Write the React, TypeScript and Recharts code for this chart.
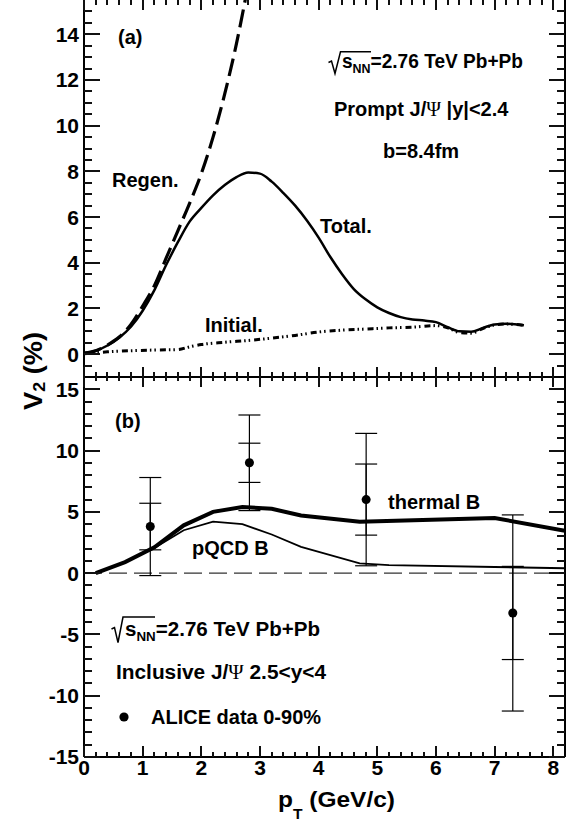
import React from "react";
import {
  ComposedChart,
  Line,
  Scatter,
  ErrorBar,
  XAxis,
  YAxis,
  ReferenceLine,
} from "recharts";

// (a) prompt J/psi v2, b = 8.4 fm
const regenPt = [0, 0.2, 0.4, 0.6, 0.8, 1.0, 1.2, 1.4, 1.6, 1.8, 2.0, 2.2, 2.4, 2.6, 2.8, 3.0];
const regenV2 = [0.05, 0.15, 0.4, 0.75, 1.3, 2.1, 3.0, 4.2, 5.4, 6.6, 7.9, 9.5, 11.4, 13.6, 16.2, 19.0];

const totalPt = [0, 0.2, 0.4, 0.6, 0.8, 1.0, 1.2, 1.4, 1.6, 1.8, 2.0, 2.2, 2.4, 2.6, 2.8, 3.0, 3.2, 3.4, 3.6, 3.8, 4.0, 4.2, 4.4, 4.6, 4.8, 5.0, 5.2, 5.4, 5.6, 5.8, 6.0, 6.2, 6.4, 6.6, 6.8, 7.0, 7.2, 7.5];
const totalV2 = [0.05, 0.15, 0.38, 0.72, 1.2, 1.9, 2.8, 3.9, 4.9, 5.8, 6.4, 6.95, 7.4, 7.75, 7.95, 7.9, 7.55, 7.05, 6.5, 5.85, 5.1, 4.25, 3.5, 2.85, 2.4, 2.05, 1.8, 1.62, 1.52, 1.47, 1.4, 1.18, 1.0, 0.98, 1.15, 1.3, 1.33, 1.26];

const initialPt = [0, 0.4, 0.8, 1.2, 1.6, 1.8, 2.0, 2.4, 2.8, 3.2, 3.6, 4.0, 4.4, 4.8, 5.2, 5.6, 6.0, 6.2, 6.4, 6.6, 6.8, 7.0, 7.2, 7.5];
const initialV2 = [0.02, 0.1, 0.15, 0.18, 0.2, 0.32, 0.42, 0.52, 0.6, 0.7, 0.82, 0.97, 1.05, 1.1, 1.15, 1.18, 1.25, 1.15, 0.95, 0.92, 1.12, 1.28, 1.32, 1.26];

// (b) inclusive J/psi v2, forward rapidity
const thermalPt = [0.2, 0.7, 1.2, 1.7, 2.2, 2.7, 3.2, 3.7, 4.7, 7.0, 8.2];
const thermalV2 = [0, 0.9, 2.1, 3.9, 5.0, 5.4, 5.25, 4.7, 4.2, 4.5, 3.45];

const pqcdPt = [0.2, 0.7, 1.2, 1.7, 2.2, 2.7, 3.2, 3.7, 4.7, 5.2, 7.0, 8.2];
const pqcdV2 = [0, 0.9, 2.05, 3.5, 4.2, 4.0, 3.15, 2.15, 0.8, 0.65, 0.5, 0.4];

const alicePt = [1.13, 2.82, 4.81, 7.31];
const aliceV2 = [3.8, 9.0, 6.0, -3.25];
const aliceStat = [1.9, 1.6, 2.9, 3.8];
const aliceTotal = [4.0, 3.9, 5.4, 8.0];

// tick labels (major ticks)
const xLabels = [0, 1, 2, 3, 4, 5, 6, 7, 8];
const topYLabels = [0, 2, 4, 6, 8, 10, 12, 14];
const botYLabels = [-15, -10, -5, 0, 5, 10, 15];

const FONT = "'Liberation Sans', Arial, Helvetica, sans-serif";

const pairs = (xs: number[], ys: number[]) => xs.map((x, i) => ({ x, v: ys[i] }));

const steps = (lo: number, hi: number, d: number) =>
  Array.from({ length: Math.round((hi - lo) / d) + 1 }, (_, i) => +(lo + i * d).toFixed(3));

const xDomain: [number, number] = [0, 8.2];
const topDomain: [number, number] = [-1, 15.5];
const botDomain: [number, number] = [-15, 16];

const xMinor = steps(0.2, 8.0, 0.2);
const topMinor = steps(-0.5, 15, 0.5);
const botMinor = steps(-14, 15, 1);

const W = 571;
const LEFT_W = 84;
const PLOT_X0 = LEFT_W;
const PLOT_X1 = W - 1 - 5;
const TOP_Y0 = 0;
const MID_Y = 377;
const BOT_Y1 = 757;

const frame = { stroke: "#000", strokeWidth: 2 };
const labelStyle = { fill: "#000", fontSize: 21, fontWeight: "bold", fontFamily: FONT };

function TopPanel() {
  return (
    <ComposedChart width={W} height={MID_Y + 1} margin={{ top: 0, right: 5, bottom: 0, left: 0 }}>
      <XAxis dataKey="x" type="number" domain={xDomain} allowDataOverflow ticks={xLabels} interval={0}
        height={1} tick={false} tickLine={false} axisLine={frame} />
      <YAxis type="number" domain={topDomain} allowDataOverflow ticks={topYLabels} interval={0} width={LEFT_W}
        tickSize={0} tickMargin={5} tickLine={false} axisLine={frame} tick={labelStyle} />
      <YAxis yAxisId="r" orientation="right" type="number" domain={topDomain} allowDataOverflow ticks={topYLabels}
        interval={0} width={1} tick={false} tickLine={false} axisLine={frame} />
      <Line data={pairs(regenPt, regenV2)} dataKey="v" type="monotone" stroke="#000" strokeWidth={3.2}
        strokeDasharray="18 7" dot={false} activeDot={false} isAnimationActive={false} />
      <Line data={pairs(totalPt, totalV2)} dataKey="v" type="monotone" stroke="#000" strokeWidth={2.5}
        dot={false} activeDot={false} isAnimationActive={false} />
      <Line data={pairs(initialPt, initialV2)} dataKey="v" type="monotone" stroke="#000" strokeWidth={3}
        strokeDasharray="6 3 1.5 3 1.5 4" dot={false} activeDot={false} isAnimationActive={false} />
    </ComposedChart>
  );
}

function BottomPanel() {
  const alice = alicePt.map((x, i) => ({
    x,
    v: aliceV2[i],
    stat: aliceStat[i],
    tot: aliceTotal[i],
  }));
  return (
    <ComposedChart width={W} height={448} margin={{ top: 0, right: 5, bottom: 0, left: 0 }}>
      <XAxis dataKey="x" type="number" domain={xDomain} allowDataOverflow ticks={xLabels} interval={0}
        height={67} tickSize={0} tickMargin={3} tickLine={false} axisLine={frame} tick={labelStyle} />
      <XAxis xAxisId="t" orientation="top" dataKey="x" type="number" domain={xDomain} allowDataOverflow
        ticks={xLabels} interval={0} height={1} tick={false} tickLine={false} axisLine={frame} />
      <YAxis type="number" domain={botDomain} allowDataOverflow ticks={botYLabels} interval={0} width={LEFT_W}
        tickSize={0} tickMargin={5} tickLine={false} axisLine={frame} tick={labelStyle} />
      <YAxis yAxisId="r" orientation="right" type="number" domain={botDomain} allowDataOverflow ticks={botYLabels}
        interval={0} width={1} tick={false} tickLine={false} axisLine={frame} />
      <ReferenceLine y={0} stroke="#333" strokeWidth={1.3} strokeDasharray="18 7" />
      <Line data={pairs(pqcdPt, pqcdV2)} dataKey="v" type="linear" stroke="#000" strokeWidth={1.8}
        dot={false} activeDot={false} isAnimationActive={false} />
      <Line data={pairs(thermalPt, thermalV2)} dataKey="v" type="linear" stroke="#000" strokeWidth={4}
        dot={false} activeDot={false} isAnimationActive={false} />
      <Scatter data={alice} dataKey="v" fill="#000" isAnimationActive={false}>
        <ErrorBar dataKey="tot" direction="y" width={11} stroke="#000" strokeWidth={1.2} isAnimationActive={false} />
        <ErrorBar dataKey="stat" direction="y" width={11} stroke="#000" strokeWidth={1.2} isAnimationActive={false} />
      </Scatter>
    </ComposedChart>
  );
}

type Box = { x: number; y: number; w: number; h: number };

// inward ROOT-style tick marks on all four sides of both frames, as small filled boxes
function tickBoxes(): Box[] {
  const sx = (v: number) => Math.round(PLOT_X0 + ((v - xDomain[0]) / (xDomain[1] - xDomain[0])) * (PLOT_X1 - PLOT_X0));
  const sy = (v: number, dom: [number, number], y0: number, y1: number) =>
    Math.round(y1 - ((v - dom[0]) / (dom[1] - dom[0])) * (y1 - y0));
  const isIn = (v: number, list: number[]) => list.some((m) => Math.abs(m - v) < 1e-6);
  const out: Box[] = [];
  const side = (dom: [number, number], y0: number, y1: number, minor: number[], major: number[],
    xt: [number, number], xb: [number, number]) => {
    [...minor, ...major].forEach((v) => {
      const y = sy(v, dom, y0, y1);
      const len = isIn(v, major) ? 16 : 8;
      out.push({ x: PLOT_X0, y: y - 1, w: len, h: 2 });
      out.push({ x: PLOT_X1 - len, y: y - 1, w: len, h: 2 });
    });
    [...xMinor, ...xLabels].forEach((v) => {
      const x = sx(v);
      const maj = isIn(v, xLabels);
      const lt = maj ? xt[0] : xt[1];
      const lb = maj ? xb[0] : xb[1];
      out.push({ x: x - 1, y: y0, w: 2, h: lt });
      out.push({ x: x - 1, y: y1 - lb, w: 2, h: lb });
    });
  };
  side(topDomain, TOP_Y0, MID_Y, topMinor, topYLabels, [10, 5], [10, 5]);
  side(botDomain, MID_Y, BOT_Y1, botMinor, botYLabels, [10, 4], [11, 5]);
  return out;
}

const txt = { fontFamily: FONT, fontWeight: "bold" as const, fontSize: 20, fill: "#000" };
const psi = { fontFamily: "'Liberation Serif', 'Times New Roman', serif", fontWeight: "normal" as const };

function TickLayer() {
  const boxes = tickBoxes();
  return (
    <svg width={W} height={824} style={{ position: "absolute", left: 0, top: 0, zIndex: 5, pointerEvents: "none" }}>
      {boxes.map((b, i) => (
        <rect key={i} x={b.x} y={b.y} width={b.w} height={b.h} fill="#111" />
      ))}
    </svg>
  );
}

function Annotations() {
  return (
    <svg width={W} height={824} style={{ position: "absolute", left: 0, top: 0, zIndex: 6, pointerEvents: "none" }}>
      {/* panel (a) */}
      <text x={118} y={44} {...txt}>(a)</text>
      <text x={112} y={187} {...txt}>Regen.</text>
      <text x={320} y={233} {...txt}>Total.</text>
      <text x={205} y={332} {...txt}>Initial.</text>
      <path d="M328.5 62.5 L331.5 61 L335 73.5 L340.5 51.7 L371 51.7" fill="none" stroke="#000" strokeWidth={1.5} />
      <text x={342} y={68} {...txt} textLength={181} lengthAdjust="spacingAndGlyphs">
        s<tspan fontSize={13} dy={5}>NN</tspan>
        <tspan dy={-5}>=2.76 TeV Pb+Pb</tspan>
      </text>
      <text x={334} y={116} {...txt}>
        Prompt J/<tspan {...psi}>Ψ</tspan> |y|&lt;2.4
      </text>
      <text x={383} y={158} {...txt}>b=8.4fm</text>

      {/* panel (b) */}
      <text x={115} y={428} {...txt}>(b)</text>
      <text x={192} y={555} {...txt}>pQCD B</text>
      <text x={388} y={509} {...txt}>thermal B</text>
      <path d="M111.5 629 L114.5 627.5 L118 642.5 L123 617 L155 617" fill="none" stroke="#000" strokeWidth={1.5} />
      <text x={125} y={636} {...txt} textLength={195} lengthAdjust="spacingAndGlyphs">
        s<tspan fontSize={13} dy={5}>NN</tspan>
        <tspan dy={-5}>=2.76 TeV Pb+Pb</tspan>
      </text>
      <text x={116} y={679} {...txt} textLength={210} lengthAdjust="spacingAndGlyphs">
        Inclusive J/<tspan {...psi}>Ψ</tspan> 2.5&lt;y&lt;4
      </text>
      <circle cx={124} cy={717} r={4.6} fill="#000" />
      <text x={151} y={724} {...txt}>ALICE data 0-90%</text>

      {/* axis titles */}
      <text transform="translate(42,410) rotate(-90)" fontFamily={FONT} fontWeight="bold" fontSize={26} fill="#000"
        textLength={78} lengthAdjust="spacingAndGlyphs">
        V<tspan fontSize={17} dy={3}>2</tspan>
        <tspan dy={-3}> (%)</tspan>
      </text>
      <text x={278} y={807} fontFamily={FONT} fontWeight="bold" fontSize={22} fill="#000"
        textLength={117} lengthAdjust="spacingAndGlyphs">
        p<tspan fontSize={14} dy={12}>T</tspan>
        <tspan dy={-12}> (GeV/c)</tspan>
      </text>
    </svg>
  );
}

export default function App() {
  return (
    <div style={{ position: "absolute", left: 0, top: 0, width: W, height: 824, background: "#fff" }}>
      <div style={{ position: "absolute", left: 0, top: 0 }}>
        <TopPanel />
      </div>
      <div style={{ position: "absolute", left: 0, top: 376 }}>
        <BottomPanel />
      </div>
      <TickLayer />
      <Annotations />
    </div>
  );
}
